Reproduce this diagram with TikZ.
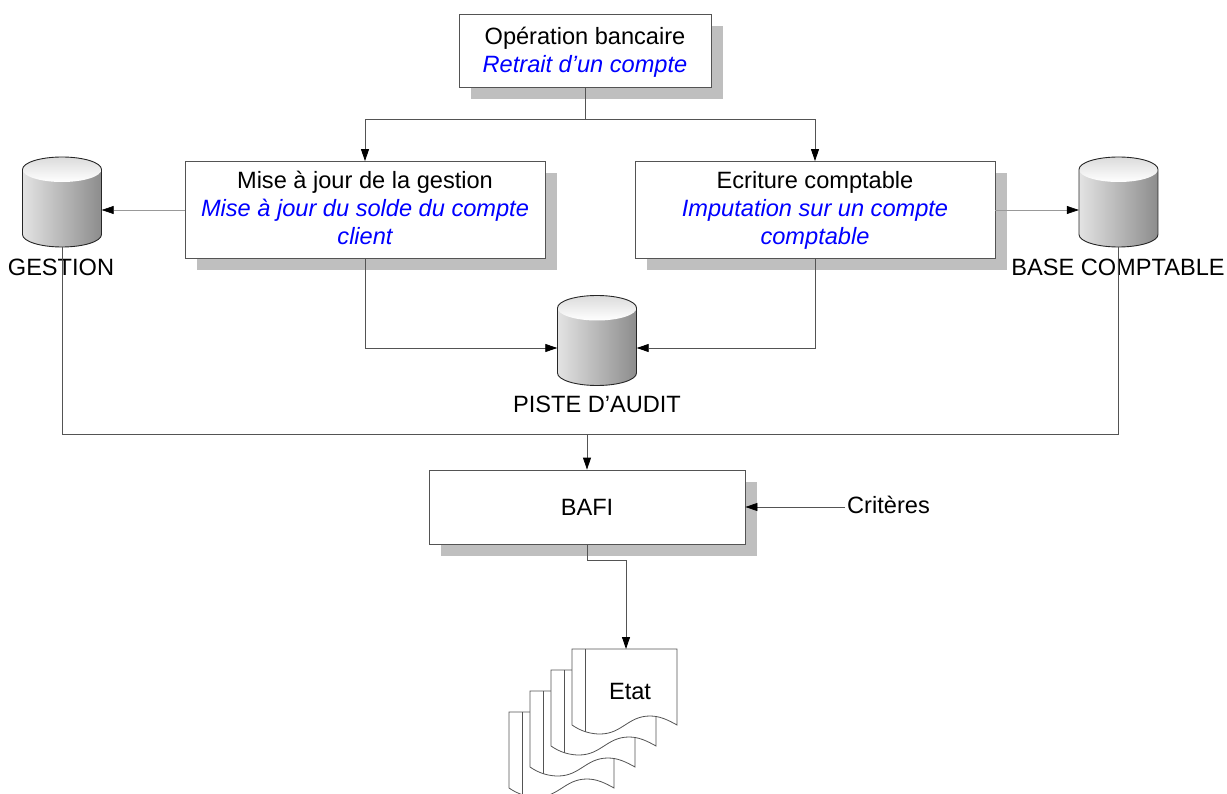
\documentclass[tikz,border=0pt]{standalone}
\usepackage{fontspec}
\setmainfont{Liberation Sans}
\usetikzlibrary{arrows.meta,shadows}
\definecolor{trait}{rgb}{0.33,0.33,0.33}
\tikzstyle{boite}=[draw=trait,fill=white,line width=0.8pt,align=center,font=\fontsize{23.6}{28}\selectfont,drop shadow={shadow xshift=12pt,shadow yshift=-12pt,fill=black!25,opacity=1}]
\tikzstyle{texte}=[inner sep=2pt,font=\fontsize{23.6}{28}\selectfont]
\tikzstyle{base}=[inner sep=0pt,minimum width=79pt,minimum height=90pt]
\tikzstyle{fleche}=[draw=trait,line width=0.8pt,-{Triangle[length=12pt,width=8pt,fill=black,color=black]}]
\tikzstyle{lien}=[draw=trait,line width=0.8pt]
\newcommand{\detail}[1]{\textcolor{blue}{\itshape #1}}
\newcommand{\basedonnees}[3]{
\node[base] (#1) at (#2,#3) {};
\begin{scope}[shift={(#2,#3)}]
\shade[left color=black!11,middle color=black!6,right color=black!45] (-39.5,-32.5) arc[start angle=180,end angle=0,x radius=39.5pt,y radius=12.5pt] -- (39.5,32.5) arc[start angle=0,end angle=-180,x radius=39.5pt,y radius=12.5pt] -- cycle;
\shade[top color=black!14,bottom color=white] (0,-32.5) ellipse[x radius=39.5pt,y radius=12.5pt];
\draw[black!85,line width=0.9pt] (-39.5,-32.5) arc[start angle=180,end angle=0,x radius=39.5pt,y radius=12.5pt] -- (39.5,32.5) arc[start angle=0,end angle=-180,x radius=39.5pt,y radius=12.5pt] -- cycle;
\end{scope}
}
\begin{document}
\begin{tikzpicture}[x=1pt,y=-1pt]
\path[use as bounding box] (0,0) rectangle (1227,794);
\node[boite,minimum width=252pt,minimum height=73pt] (operation) at (585,50.5) {\rule{0pt}{21pt}Opération bancaire\\\detail{Retrait d’un compte}};
\node[boite,minimum width=360pt,minimum height=97pt] (gestionmaj) at (365,210) {\rule{0pt}{18.5pt}Mise à jour de la gestion\\\detail{Mise à jour du solde du compte}\\\detail{client\vphantom{p}}};
\node[boite,minimum width=360pt,minimum height=97pt] (ecriture) at (815,210) {\rule{0pt}{18.5pt}Ecriture comptable\\\detail{Imputation sur un compte}\\\detail{comptable}};
\node[boite,minimum width=316pt,minimum height=74pt] (bafi) at (587,507) {BAFI};
\basedonnees{gestion}{62}{202}
\basedonnees{piste}{597}{340.5}
\basedonnees{compta}{1118.5}{202}
\node[texte] (lgestion) at (61,267) {GESTION};
\node[texte] (lpiste) at (597,404) {PISTE D’AUDIT};
\node[texte] (lcompta) at (1118,267) {BASE COMPTABLE};
\node[texte,anchor=west] (criteres) at (845,505) {Critères};
% pile des etats
\foreach \i in {3,2,1,0} {
\begin{scope}[shift={({-21*\i},{21*\i})}]
\draw[trait,line width=0.8pt,fill=white] (572,649) -- (677,649) -- (677,725) .. controls (668,720) and (660,716) .. (650,716) .. controls (628,716) and (622,734) .. (600,734) .. controls (592,734) and (582,732) .. (572,725) -- cycle;
\draw[trait,line width=0.8pt] (585,649) -- (585,732);
\end{scope}
}
\node[texte] (etat) at (630,691) {Etat};
\coordinate (etathaut) at (626,649);
\coordinate (collecte) at (62,434);
% liens
\draw[lien] (operation.south) -- ++(0,32) coordinate (embranche);
\draw[fleche] (embranche) -| (gestionmaj.north);
\draw[fleche] (embranche) -| (ecriture.north);
\draw[fleche,draw=black!40,line width=0.6pt] (gestionmaj.west) -- (gestionmaj.west -| gestion.east);
\draw[fleche,draw=black!40,line width=0.6pt] (ecriture.east) -- (ecriture.east -| compta.west);
\draw[fleche] (gestionmaj.south) |- ([yshift=-7.5pt]piste.west);
\draw[fleche] (ecriture.south) |- ([yshift=-7.5pt]piste.east);
\draw[lien] (gestion.south) |- (collecte) -| (compta.south);
\draw[fleche] (bafi.north |- collecte) -- (bafi.north);
\draw[fleche] (criteres.west |- bafi.east) -- (bafi.east);
\draw[fleche] (bafi.south) -- ++(0,16) -| (etathaut);
\end{tikzpicture}
\end{document}
